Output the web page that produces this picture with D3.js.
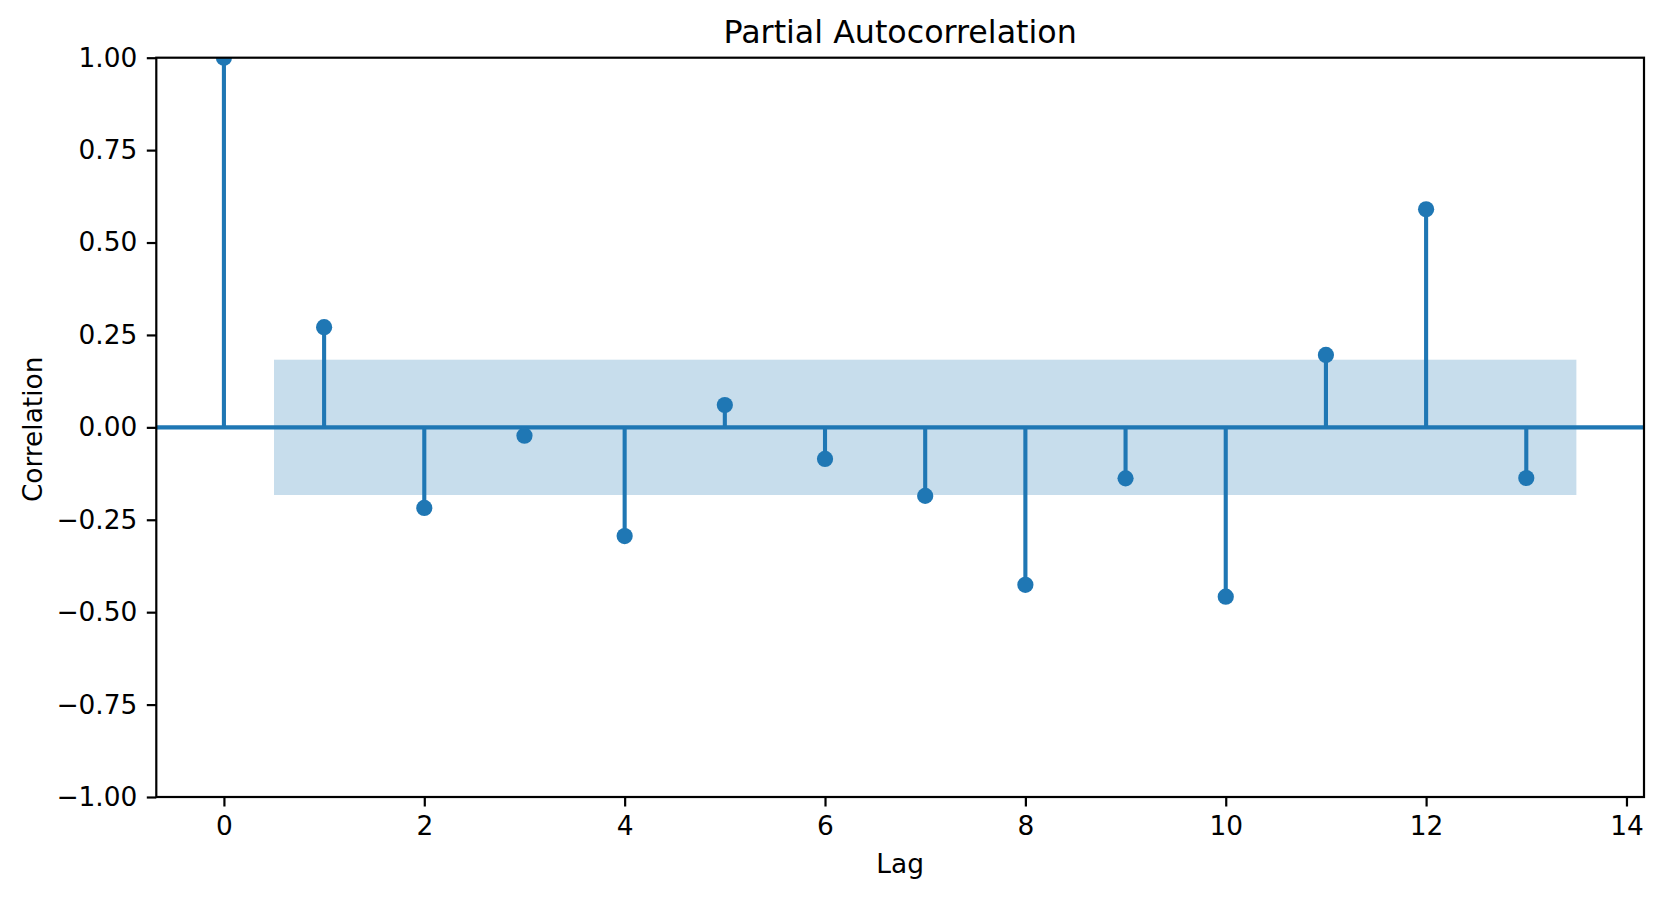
<!DOCTYPE html>
<html>
<head>
<meta charset="utf-8">
<script src="https://cdn.jsdelivr.net/npm/d3@7"></script>
<style>
  html, body { margin: 0; padding: 0; background: #fff; }
  svg { display: block; }
  text { font-family: "DejaVu Sans", sans-serif; fill: #000; }
</style>
</head>
<body>
<script>
// ---- data ----
const lags = [0, 1, 2, 3, 4, 5, 6, 7, 8, 9, 10, 11, 12, 13];
const pacfValues = [1.0, 0.271, -0.218, -0.0225, -0.294, 0.0605, -0.0854, -0.1854, -0.426, -0.138, -0.458, 0.196, 0.590, -0.137];
const confBound = 0.183;
const confRange = [0.5, 13.5];
const xTicks = [0, 2, 4, 6, 8, 10, 12, 14];
const yTicks = [-1.0, -0.75, -0.5, -0.25, 0.0, 0.25, 0.5, 0.75, 1.0];
const titleText = "Partial Autocorrelation";
const xLabelText = "Lag";
const yLabelText = "Correlation";

// ---- layout ----
const W = 1663, H = 898;
const mLeft = 156.3, mRight = 1644, mTop = 57.7, mBottom = 797;
const blue = "#1f77b4";
const fontPx = 26.4;
const titlePx = 31.7;
const tickLen = 9.5;

const svg = d3.select("body").append("svg").attr("width", W).attr("height", H);

const x = d3.scaleLinear().domain([-0.675, 14.175]).range([mLeft, mRight]);
const y = d3.scaleLinear().domain([-1, 1]).range([mBottom, mTop]);

svg.append("defs").append("clipPath").attr("id", "clip")
  .append("rect").attr("x", mLeft).attr("y", mTop).attr("width", mRight - mLeft).attr("height", mBottom - mTop);

const plot = svg.append("g").attr("clip-path", "url(#clip)");

// confidence band
plot.append("rect")
  .attr("x", x(confRange[0])).attr("width", x(confRange[1]) - x(confRange[0]))
  .attr("y", y(confBound)).attr("height", y(-confBound) - y(confBound))
  .attr("fill", blue).attr("fill-opacity", 0.25);

// stems
plot.selectAll("line.stem").data(lags).enter().append("line")
  .attr("class", "stem")
  .attr("x1", d => x(d)).attr("x2", d => x(d))
  .attr("y1", y(0)).attr("y2", (d, i) => y(pacfValues[i]))
  .attr("stroke", blue).attr("stroke-width", 4.1);

// zero line
plot.append("line")
  .attr("x1", mLeft).attr("x2", mRight).attr("y1", y(0)).attr("y2", y(0))
  .attr("stroke", blue).attr("stroke-width", 4.1);

// markers
plot.selectAll("circle.pt").data(lags).enter().append("circle")
  .attr("class", "pt")
  .attr("cx", d => x(d)).attr("cy", (d, i) => y(pacfValues[i]))
  .attr("r", 8.1).attr("fill", blue);

// axes
const fmtY = d => d3.format(".2f")(d).replace("-", "\u2212");
const xAxis = d3.axisBottom(x).tickValues(xTicks).tickSize(tickLen).tickPadding(9.5).tickFormat(d3.format("d"));
const yAxis = d3.axisLeft(y).tickValues(yTicks).tickSize(tickLen).tickPadding(9.5).tickFormat(fmtY);

const gx = svg.append("g").attr("transform", `translate(0,${mBottom})`).call(xAxis);
const gy = svg.append("g").attr("transform", `translate(${mLeft},0)`).call(yAxis);
[gx, gy].forEach(g => {
  g.select(".domain").remove();
  g.selectAll(".tick line").attr("stroke", "#000").attr("stroke-width", 2.2);
  g.selectAll(".tick text").attr("font-family", "DejaVu Sans").attr("font-size", fontPx).attr("fill", "#000");
});

// spines
svg.append("rect")
  .attr("x", mLeft).attr("y", mTop).attr("width", mRight - mLeft).attr("height", mBottom - mTop)
  .attr("fill", "none").attr("stroke", "#000").attr("stroke-width", 2.2);

// title & labels
svg.append("text").attr("x", (mLeft + mRight) / 2).attr("y", 43.3)
  .attr("text-anchor", "middle").attr("font-size", titlePx).text(titleText);
svg.append("text").attr("x", (mLeft + mRight) / 2).attr("y", 873.3)
  .attr("text-anchor", "middle").attr("font-size", fontPx).text(xLabelText);
svg.append("text")
  .attr("transform", `translate(41.5,${(mTop + mBottom) / 2 + 2}) rotate(-90)`)
  .attr("text-anchor", "middle").attr("font-size", fontPx).text(yLabelText);
</script>
</body>
</html>
